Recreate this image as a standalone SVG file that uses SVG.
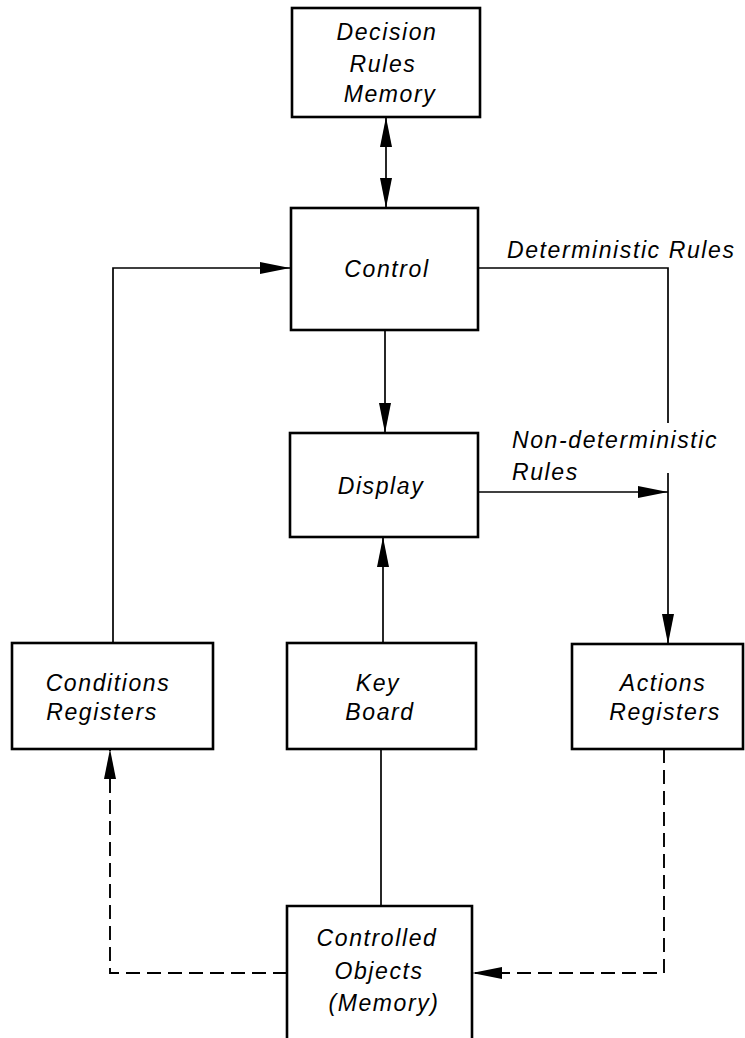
<svg xmlns="http://www.w3.org/2000/svg" width="745" height="1038" viewBox="0 0 745 1038">
<style>
.box{fill:none;stroke:#000;stroke-width:2.6}
.ln{fill:none;stroke:#000;stroke-width:1.7}
.ds{fill:none;stroke:#000;stroke-width:1.9;stroke-dasharray:14 7}
.t{font-family:"Liberation Sans",Arial,sans-serif;font-style:italic;font-size:23px;letter-spacing:1.6px;fill:#000}
.m{text-anchor:middle}
</style>
<defs>
<marker id="ah" markerUnits="userSpaceOnUse" viewBox="0 0 30 12" refX="30" refY="6" markerWidth="30" markerHeight="12" orient="auto-start-reverse">
<path d="M0,0 L30,6 L0,12 z" fill="#000" stroke="none"/>
</marker>
</defs>
<rect width="745" height="1038" fill="#fff"/>
<g id="connectors">
<path class="ln" d="M386,117 V208" marker-start="url(#ah)" marker-end="url(#ah)"/>
<path class="ln" d="M385,330 V433" marker-end="url(#ah)"/>
<path class="ln" d="M113,643 V268 H290" marker-end="url(#ah)"/>
<path class="ln" d="M478,268 H668 V423"/>
<path class="ln" d="M668,473 V644" marker-end="url(#ah)"/>
<path class="ln" d="M478,492 H668" marker-end="url(#ah)"/>
<path class="ln" d="M383,643 V537" marker-end="url(#ah)"/>
<path class="ln" d="M381,749 V906"/>
<path class="ds" d="M287,973 H110 V749" marker-end="url(#ah)"/>
<path class="ds" d="M664,749 V973 H472" marker-end="url(#ah)"/>
<text class="t" x="507" y="258">Deterministic Rules</text>
<text class="t" x="512" y="448">Non-deterministic</text>
<text class="t" x="512" y="480">Rules</text>
</g>
<g id="decision">
<rect class="box" x="292" y="8" width="188" height="109"/>
<text class="t m" x="387" y="40">Decision</text>
<text class="t m" x="383" y="72">Rules</text>
<text class="t m" x="390" y="102">Memory</text>
</g>
<g id="control">
<rect class="box" x="291" y="208" width="187" height="122"/>
<text class="t m" x="387" y="277">Control</text>
</g>
<g id="display">
<rect class="box" x="290" y="433" width="188" height="104"/>
<text class="t m" x="381" y="494">Display</text>
</g>
<g id="conditions">
<rect class="box" x="12" y="643" width="201" height="106"/>
<text class="t m" x="108" y="691">Conditions</text>
<text class="t m" x="102" y="720">Registers</text>
</g>
<g id="keyboard">
<rect class="box" x="287" y="643" width="189" height="106"/>
<text class="t m" x="378" y="691">Key</text>
<text class="t m" x="380" y="720">Board</text>
</g>
<g id="actions">
<rect class="box" x="572" y="644" width="171" height="105"/>
<text class="t m" x="663" y="691">Actions</text>
<text class="t m" x="665" y="720">Registers</text>
</g>
<g id="controlled">
<path class="box" d="M287,1042 V906 H472 V1042"/>
<text class="t m" x="377" y="946">Controlled</text>
<text class="t m" x="379" y="979">Objects</text>
<text class="t m" x="384" y="1011">(Memory)</text>
</g>
</svg>
